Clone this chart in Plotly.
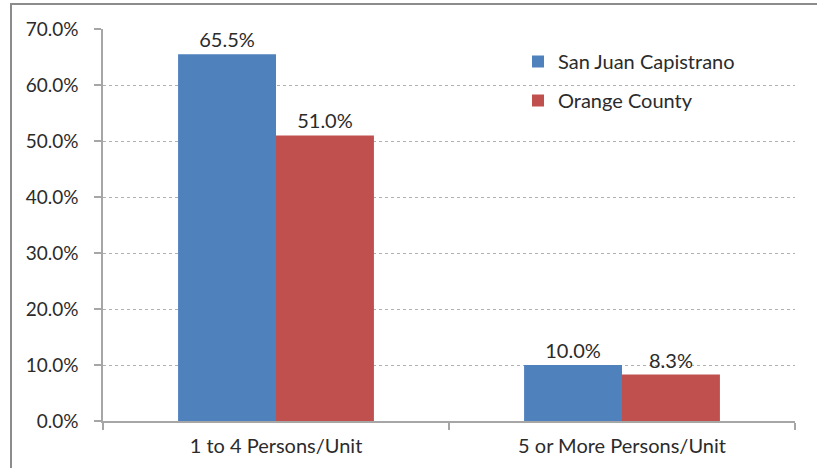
import plotly.graph_objects as go

categories = ["1 to 4 Persons/Unit", "5 or More Persons/Unit"]
series_names = ["San Juan Capistrano", "Orange County"]
sjc_values = [0.655, 0.100]
oc_values = [0.510, 0.083]
colors = ["#4F81BD", "#C0504D"]

FONT = "Lato"
TXT = "#2b2b2b"

fig = go.Figure()
for name, vals, col in zip(series_names, [sjc_values, oc_values], colors):
    fig.add_trace(go.Bar(
        x=categories, y=vals, name=name, legendgroup=name,
        marker=dict(color=col, line=dict(width=0)),
        texttemplate="%{y:.1%}", textposition="outside",
        textfont=dict(family=FONT, size=20, color=TXT),
        cliponaxis=False,
    ))

L, R, T, B = 103, 22, 29, 47
W, H = 817, 468
pw, ph = W - L - R, H - T - B

def px_x(x):
    return (x - L) / pw

def px_y(y):
    return (H - B - y) / ph

fig.update_layout(
    width=W, height=H,
    margin=dict(l=L, r=R, t=T, b=B),
    paper_bgcolor="white", plot_bgcolor="white",
    barmode="group", bargap=0.434, bargroupgap=0,
    font=dict(family=FONT, size=17, color=TXT),
    showlegend=True,
    legend=dict(x=px_x(518), y=px_y(42), xanchor="left", yanchor="top",
                bgcolor="rgba(0,0,0,0)", font=dict(family=FONT, size=20, color=TXT),
                traceorder="grouped", tracegroupgap=10, itemwidth=30),
    xaxis=dict(showline=True, linecolor="#a6a6a6", linewidth=1.5,
               ticks="outside", ticklen=7, tickcolor="#a6a6a6", tickwidth=1.5,
               tickson="boundaries", tickfont=dict(family=FONT, size=20, color=TXT),
               ticklabelstandoff=6, automargin=False, showgrid=False),
    yaxis=dict(range=[0, 0.7], dtick=0.1, tickformat=".1%",
               showline=True, linecolor="#a6a6a6", linewidth=1.5,
               ticks="outside", ticklen=7, tickcolor="#a6a6a6", tickwidth=1.5,
               showgrid=True, gridcolor="#b0b0b0", griddash="dot", gridwidth=1,
               zeroline=False, automargin=False, ticklabelstandoff=12,
               tickfont=dict(family=FONT, size=19, color=TXT)),
    shapes=[
        dict(type="line", xref="paper", yref="paper", x0=px_x(11), x1=px_x(11),
             y0=px_y(4), y1=px_y(470), line=dict(color="#8c8c8c", width=2)),
        dict(type="line", xref="paper", yref="paper", x0=px_x(10), x1=px_x(820),
             y0=px_y(4), y1=px_y(4), line=dict(color="#8c8c8c", width=2)),
    ],
)

fig.write_html(
    "out.html",
    config={"displayModeBar": False, "responsive": False},
    post_script="document.body.style.margin='0';document.body.style.overflow='hidden';",
)
